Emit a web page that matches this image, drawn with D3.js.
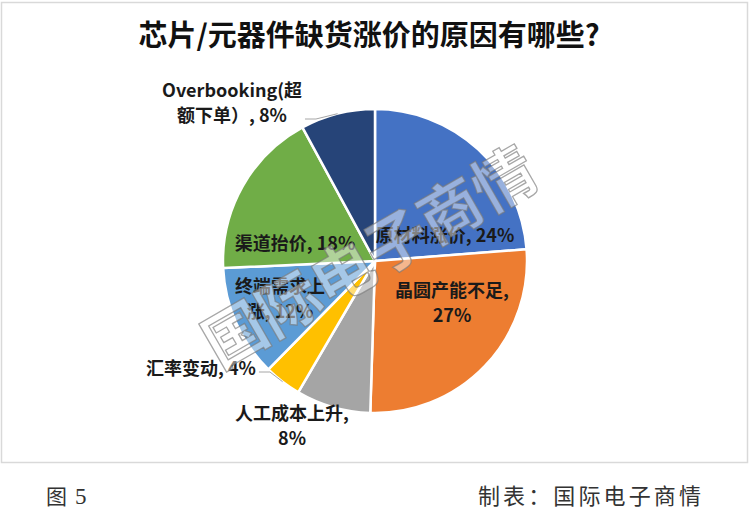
<!DOCTYPE html>
<html>
<head>
<meta charset="utf-8">
<script src="https://cdn.jsdelivr.net/npm/d3@7"></script>
<style>
  body { margin: 0; background: #fff; }
  text { font-family: "Noto Sans CJK SC", "Noto Sans", sans-serif; }
</style>
</head>
<body>
<svg id="chart"></svg>
<script>
// Values
const categories = ["原材料涨价", "晶圆产能不足", "人工成本上升", "汇率变动", "终端需求上涨", "渠道抬价", "Overbooking(超额下单）"];
const shares = [24, 27, 8, 4, 12, 18, 8];
const chartTitle = "芯片/元器件缺货涨价的原因有哪些?";
const figureLabel = ["图", "5"];
const sourceLabel = "制表：国际电子商情";
const watermark = "国际电子商情";

class PieChart {
    constructor(_config, _data) {
        this.config = {
            parentElement: _config.parentElement,
            containerWidth: _config.containerWidth || 752,
            containerHeight: _config.containerHeight || 510,
            colorScale: d3.scaleOrdinal()
                .domain(categories)
                .range(["#4472C4", "#ED7D31", "#A5A5A5", "#FFC000", "#5B9BD5", "#70AD47", "#264478"]),
            radius: 152,
            center: [375, 261],
            // where each data label sits, relative to pie centre (first baseline), and where it wraps
            labelLayout: [
                { dx: 70, dy: -19, breakAt: null },
                { dx: 77, dy: 36, breakAt: 7 },
                { dx: -83, dy: 159, breakAt: 7 },
                { dx: -174, dy: 114, breakAt: null, leader: true },
                { dx: -95, dy: 32, breakAt: 5 },
                { dx: -80, dy: -11, breakAt: null },
                { dx: -143, dy: -164, breakAt: 13, leader: true }
            ],
            lineHeight: 25
        };
        this.data = _data;
        this.initVis();
    }

    initVis() {
        let vis = this;

        vis.svg = d3.select(vis.config.parentElement)
            .attr("width", vis.config.containerWidth)
            .attr("height", vis.config.containerHeight);

        // chart frame
        vis.svg.append("rect")
            .attr("x", 1.5)
            .attr("y", 2.5)
            .attr("width", 746)
            .attr("height", 460)
            .attr("fill", "#fff")
            .attr("stroke", "#d9d9d9")
            .attr("stroke-width", 1.5);

        vis.svg.append("text")
            .attr("x", 369)
            .attr("y", 46)
            .attr("text-anchor", "middle")
            .attr("font-size", "29px")
            .attr("font-weight", "bold")
            .attr("fill", "#111")
            .text(chartTitle);

        vis.chart = vis.svg.append("g")
            .attr("transform", `translate(${vis.config.center[0]},${vis.config.center[1]})`);

        vis.pie = d3.pie().sort(null).value(d => d.share);
        vis.arc = d3.arc().innerRadius(0).outerRadius(vis.config.radius);
        vis.edgeArc = d3.arc().innerRadius(vis.config.radius).outerRadius(vis.config.radius);

        vis.renderVis();

        // watermark stamp over the pie
        vis.svg.append("text")
            .attr("transform", "translate(370,258) rotate(-30)")
            .attr("text-anchor", "middle")
            .attr("dy", "0.35em")
            .attr("font-size", "62px")
            .attr("font-weight", "bold")
            .attr("fill", "rgba(255,255,255,0.45)")
            .attr("stroke", "rgba(120,120,120,0.65)")
            .attr("stroke-width", 1.3)
            .text(watermark);

        // footer
        vis.svg.append("text")
            .attr("x", 46)
            .attr("y", 504)
            .attr("font-size", "21px")
            .attr("fill", "#333")
            .text(figureLabel[0]);
        vis.svg.append("text")
            .attr("x", 75)
            .attr("y", 504)
            .attr("font-size", "23px")
            .attr("fill", "#333")
            .style("font-family", "'Liberation Serif', serif")
            .text(figureLabel[1]);
        vis.svg.append("text")
            .attr("x", 478)
            .attr("y", 504)
            .attr("font-size", "22px")
            .attr("fill", "#333")
            .attr("textLength", 223)
            .attr("lengthAdjust", "spacing")
            .text(sourceLabel);
    }

    renderVis() {
        let vis = this;
        const arcs = vis.pie(vis.data);

        vis.chart.selectAll(".slice")
            .data(arcs)
            .join("path")
            .attr("class", "slice")
            .attr("d", vis.arc)
            .attr("fill", d => vis.config.colorScale(d.data.category))
            .attr("stroke", "#fff")
            .attr("stroke-width", 2.5)
            .attr("stroke-linejoin", "round");

        const labels = vis.chart.selectAll(".data-label")
            .data(arcs)
            .join("text")
            .attr("class", "data-label")
            .attr("text-anchor", "middle")
            .attr("font-size", "18px")
            .attr("font-weight", "bold")
            .attr("fill", "#1a1a1a");

        labels.each(function(d, i) {
            const lay = vis.config.labelLayout[i];
            const full = `${d.data.category}, ${d.data.share}%`;
            const lines = lay.breakAt ? [full.slice(0, lay.breakAt), full.slice(lay.breakAt).trim()] : [full];
            d3.select(this).selectAll("tspan")
                .data(lines)
                .join("tspan")
                .attr("x", lay.dx)
                .attr("y", (l, j) => lay.dy + j * vis.config.lineHeight)
                .text(l => l);
        });

        // leader lines for the labels outside the pie
        labels.filter((d, i) => vis.config.labelLayout[i].leader).each(function(d, i) {
            const bb = this.getBBox();
            const lay = vis.config.labelLayout[vis.data.findIndex(e => e.category === d.data.category)];
            const nLines = lay.breakAt ? 2 : 1;
            const y = lay.dy + (nLines - 1) * vis.config.lineHeight - 3;
            const x0 = bb.x + bb.width + 3;
            const end = vis.edgeArc.centroid(d);
            vis.chart.append("polyline")
                .attr("points", [[x0, y], [x0 + 11, y], end].map(p => p.join(",")).join(" "))
                .attr("fill", "none")
                .attr("stroke", "#a6a6a6")
                .attr("stroke-width", 1);
        });
    }
}

const data = categories.map((c, i) => ({ category: c, share: shares[i] }));
const pieChart = new PieChart({ parentElement: "#chart" }, data);
</script>
</body>
</html>
